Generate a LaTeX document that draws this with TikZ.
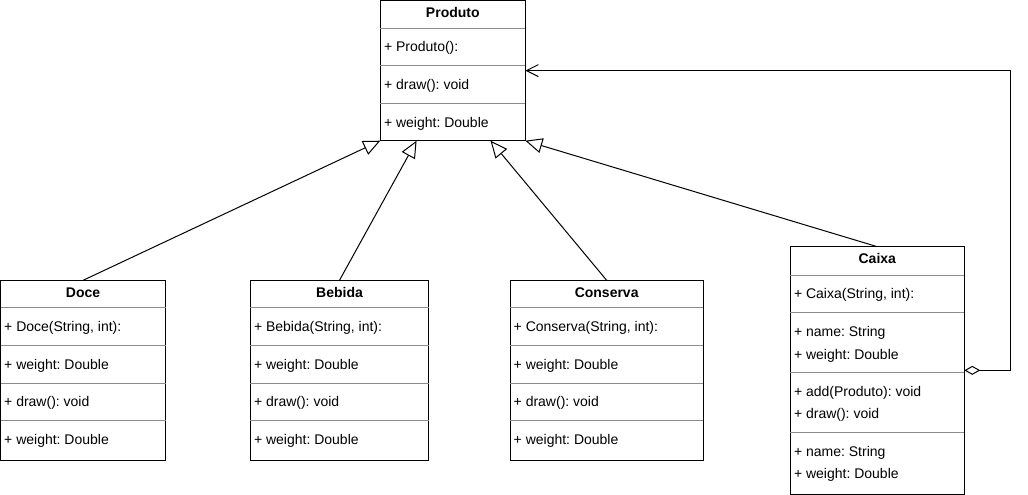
\documentclass[tikz,border=0pt]{standalone}
\usepackage{fontspec}
\setmainfont{Liberation Sans}
\frenchspacing
\usetikzlibrary{arrows.meta, positioning, calc}
\tikzset {
    class/.style={draw, line width=1pt, anchor=north west, inner sep=0pt, outer sep=0pt},
    title/.style={font=\fontsize{14}{17}\selectfont\bfseries, text height=10pt, text depth=0pt, inner sep=0pt},
    entry/.style={font=\fontsize{14}{17}\selectfont, anchor=west, text height=10pt, text depth=0pt, inner sep=0pt},
    sep/.style={draw=black!45, line width=1pt},
    inherit/.style={-{Triangle[open, length=17pt, width=15pt]}, line width=1pt},
    aggregate/.style={{Diamond[open, length=16pt, width=9pt]}-{Straight Barb[length=12pt, width=12pt]}, line width=1pt}
}

\begin{document}
\begin{tikzpicture}[x=1pt, y=-1pt]
                    \useasboundingbox (0,0) rectangle (1028,495);

                    % Produto
                    \node[class, minimum width=145, minimum height=140.2] (produto) at (380.3,0.5) {};
                    \node[title] (produto-t) at ($(produto.north)+(0,12)$) {Produto};
                    \node[entry] (produto-a) at ($(produto.north west)+(3.5,46.5)$) {+ Produto():};
                    \node[entry] (produto-b) at ($(produto.north west)+(3.5,84)$) {+ draw(): void};
                    \node[entry] (produto-c) at ($(produto.north west)+(3.5,121.5)$) {+ weight: Double};
                    \foreach \y in {27.8, 65.2, 102.8}
                        \draw[sep] ($(produto.north west)+(0,\y)$) -- ++(145,0);

                    % Doce, Bebida, Conserva
                    \foreach \cls/\lbl/\px/\bw in {doce/Doce/0.5/165.2, bebida/Bebida/250.3/178.4, conserva/Conserva/510/193.3} {
                        \node[class, minimum width=\bw, minimum height=180] (\cls) at (\px,280.3) {};
                        \node[title] (\cls-t) at ($(\cls.north)+(0,12)$) {\lbl};
                        \node[entry] (\cls-a) at ($(\cls.north west)+(3.5,46)$) {+ \lbl(String, int):};
                        \node[entry] (\cls-b) at ($(\cls.north west)+(3.5,84)$) {+ weight: Double};
                        \node[entry] (\cls-c) at ($(\cls.north west)+(3.5,121.5)$) {+ draw(): void};
                        \node[entry] (\cls-d) at ($(\cls.north west)+(3.5,159.5)$) {+ weight: Double};
                        \foreach \y in {27.4, 65, 103, 140.4}
                            \draw[sep] ($(\cls.north west)+(0,\y)$) -- ++(\bw,0);
                    }

                    % Caixa
                    \node[class, minimum width=174, minimum height=247.3] (caixa) at (790.3,246.7) {};
                    \node[title] (caixa-t) at ($(caixa.north)+(0,12)$) {Caixa};
                    \node[entry] (caixa-a) at ($(caixa.north west)+(3.5,47)$) {+ Caixa(String, int):};
                    \node[entry] (caixa-b) at ($(caixa.north west)+(3.5,84.5)$) {+ name: String};
                    \node[entry] (caixa-c) at ($(caixa.north west)+(3.5,107.5)$) {+ weight: Double};
                    \node[entry] (caixa-d) at ($(caixa.north west)+(3.5,144.5)$) {+ add(Produto): void};
                    \node[entry] (caixa-e) at ($(caixa.north west)+(3.5,166.5)$) {+ draw(): void};
                    \node[entry] (caixa-f) at ($(caixa.north west)+(3.5,204.5)$) {+ name: String};
                    \node[entry] (caixa-g) at ($(caixa.north west)+(3.5,226.5)$) {+ weight: Double};
                    \foreach \y in {28.3, 65.3, 125.6, 185.6}
                        \draw[sep] ($(caixa.north west)+(0,\y)$) -- ++(174,0);

                    % generalisation and aggregation
                    \draw[inherit] (doce.north) -- (produto.south west);
                    \draw[inherit] (bebida.north) -- ($(produto.south west)!0.25!(produto.south east)$);
                    \draw[inherit] (conserva.north) -- ($(produto.south west)!0.76!(produto.south east)$);
                    \draw[inherit] (caixa.north) -- (produto.south east);
                    \draw[aggregate] (caixa.east) -- ++(45.7,0) |- (produto.east);
                    \end{tikzpicture}
\end{document}
